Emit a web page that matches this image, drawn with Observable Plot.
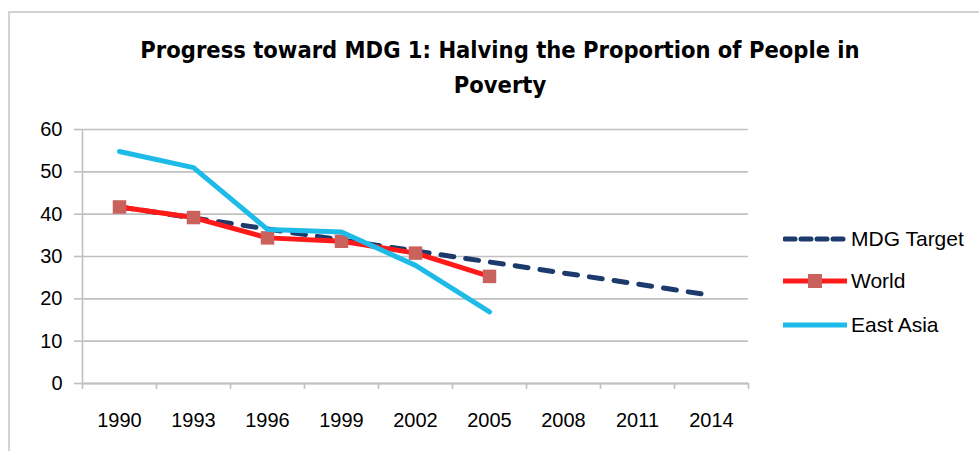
<!DOCTYPE html>
<html>
<head>
<meta charset="utf-8">
<script src="https://cdn.jsdelivr.net/npm/d3@7"></script>
<script src="https://cdn.jsdelivr.net/npm/@observablehq/plot@0.6"></script>
<style>
  html, body { margin: 0; padding: 0; background: #fff; }
  #wrap { position: relative; width: 979px; height: 451px; overflow: hidden; background: #fff; }
  #frame { position: absolute; left: 8px; top: 11px; right: -10px; bottom: -10px;
           border-left: 2px solid #d2d2d2; border-top: 2px solid #d2d2d2; }
  #title { position: absolute; left: 100px; width: 800px; top: 33px; text-align: center;
           font-family: "Liberation Sans Narrow", "DejaVu Sans Condensed", "Liberation Sans", sans-serif;
           font-weight: bold; font-size: 23.5px; line-height: 35px; color: #000; }
  #chart { position: absolute; left: 0; top: 0; }
  .leg { position: absolute; left: 783px; height: 24px; display: flex; align-items: center;
         font-family: "Liberation Sans", Arial, sans-serif; font-size: 21px; color: #000; }
  .leg svg { margin-right: 4px; }
</style>
</head>
<body>
<div id="wrap">
  <div id="frame"></div>
  <div id="chart"></div>
  <div id="title">Progress toward MDG 1: Halving the Proportion of People in<br>Poverty</div>
  <div id="legend"></div>
</div>
<script>
// ---- data ----
const years = [1990, 1993, 1996, 1999, 2002, 2005, 2008, 2011, 2014];
const mdgTarget = [41.7, 39.1, 36.5, 33.9, 31.3, 28.7, 26.1, 23.5, 20.8];
const worldYears = [1990, 1993, 1996, 1999, 2002, 2005];
const world = [41.7, 39.2, 34.4, 33.6, 30.8, 25.3];
const eastAsia = [54.8, 51.0, 36.4, 35.8, 27.9, 16.9];
const yTicks = [0, 10, 20, 30, 40, 50, 60];
const categoryEdges = [1988.5, 1991.5, 1994.5, 1997.5, 2000.5, 2003.5, 2006.5, 2009.5, 2012.5, 2015.5];
const seriesNames = ["MDG Target", "World", "East Asia"];

// ---- styles ----
const navy = "#1d3a6d", red = "#ff1a1a", markerFill = "#c9615d", cyan = "#1ebbe8", gray = "#c0c0c0";

const mdgRows = years.map((y, i) => ({year: y, value: mdgTarget[i]}));
const worldRows = worldYears.map((y, i) => ({year: y, value: world[i]}));
const eastRows = worldYears.map((y, i) => ({year: y, value: eastAsia[i]}));

const chart = Plot.plot({
  width: 979,
  height: 451,
  marginLeft: 82,
  marginRight: 231,
  marginTop: 129,
  marginBottom: 68,
  x: {type: "linear", domain: [1988.5, 2015.5]},
  y: {domain: [0, 60]},
  style: {fontFamily: "'Liberation Sans', Arial, sans-serif", fontSize: "20px", color: "#000", background: "transparent"},
  marks: [
    Plot.gridY(yTicks, {stroke: gray, strokeOpacity: 1, strokeWidth: 1.6}),
    Plot.axisY(yTicks, {tickSize: 8, tickPadding: 12, stroke: gray, strokeWidth: 1.6, strokeOpacity: 1, label: null, fill: "#000"}),
    Plot.ruleX([1988.5], {y1: 0, y2: 60, stroke: gray, strokeWidth: 1.6}),
    Plot.ruleY([0], {stroke: gray, strokeWidth: 1.8}),
    Plot.axisX(categoryEdges, {tickSize: 6, tickFormat: () => "", stroke: gray, strokeWidth: 1.6, strokeOpacity: 1, label: null}),
    Plot.axisX(years, {tickSize: 0, tickPadding: 29, tickFormat: d => String(d), label: null, fill: "#000"}),
    Plot.line(mdgRows, {x: "year", y: "value", stroke: navy, strokeWidth: 5, strokeDasharray: "13,12"}),
    Plot.line(worldRows, {x: "year", y: "value", stroke: red, strokeWidth: 5}),
    Plot.dot(worldRows, {x: "year", y: "value", symbol: "square", r: 7.6, fill: markerFill, stroke: "none"}),
    Plot.line(eastRows, {x: "year", y: "value", stroke: cyan, strokeWidth: 5})
  ]
});
document.getElementById("chart").appendChild(chart);

// ---- legend ----
const legendTops = [227, 269, 313];
const legend = document.getElementById("legend");
seriesNames.forEach((name, i) => {
  const div = document.createElement("div");
  div.className = "leg";
  div.style.top = legendTops[i] + "px";
  let sw = "";
  if (i === 0) sw = `<line x1="2" y1="12" x2="62" y2="12" stroke="${navy}" stroke-width="5" stroke-dasharray="10,6" stroke-linecap="round"/>`;
  if (i === 1) sw = `<line x1="0" y1="12" x2="64" y2="12" stroke="${red}" stroke-width="5"/><rect x="25" y="5" width="14" height="14" fill="${markerFill}"/>`;
  if (i === 2) sw = `<line x1="0" y1="12" x2="64" y2="12" stroke="${cyan}" stroke-width="5"/>`;
  div.innerHTML = `<svg width="64" height="24">${sw}</svg><span>${name}</span>`;
  legend.appendChild(div);
});
</script>
</body>
</html>
